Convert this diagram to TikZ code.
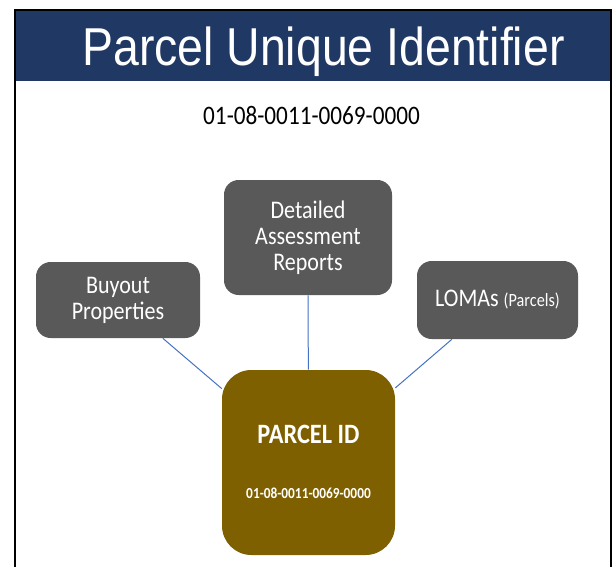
\documentclass[tikz,border=0pt]{standalone}
\usepackage{fontspec}
\setmainfont[FakeStretch=0.87]{Carlito}
\newfontfamily\titlefont[FakeStretch=0.87]{Liberation Sans}
\usetikzlibrary{positioning}
\definecolor{headblue}{HTML}{203864}
\definecolor{boxgray}{HTML}{595959}
\definecolor{parcelbrown}{HTML}{7F6000}
\definecolor{linkblue}{HTML}{4472C4}

\begin{document}
\begin{tikzpicture}[x=0.75pt,y=-0.75pt,
	link/.style={draw=linkblue,line width=0.75pt}]
	\tikzstyle{topic}=[rectangle,rounded corners=11pt,fill=boxgray,text=white,align=center,inner sep=0pt,font=\fontsize{19}{19.5}\selectfont]
	\tikzstyle{hub}=[rectangle,rounded corners=22pt,fill=parcelbrown,minimum width=129.75pt,minimum height=138.75pt]

	\useasboundingbox (0,0) rectangle (613,567);
	% title band and frame
	\fill[headblue] (15,10.5) rectangle (610.5,81);
	\draw[line width=1.5pt] (15,567) -- (15,10.5) -- (610.5,10.5) -- (610.5,567);

	\node[anchor=base,text=white,font=\titlefont\fontsize{40}{40}\selectfont] (title) at (323.5,65) {Parcel Unique Identifier};
	\node[anchor=base,font=\fontsize{20}{20}\selectfont] (number) at (311.5,124) {01-08-0011-0069-0000};

	\node[topic,minimum width=123pt,minimum height=57pt]        (buyout)   at (118,300)   {Buyout\\Properties};
	\node[topic,minimum width=126pt,minimum height=86.25pt]     (detailed) at (308,237.5) {Detailed\\Assessment\\Reports};
	\node[topic,minimum width=120.75pt,minimum height=58.5pt]   (lomas)    at (497.5,300) {LOMAs {\fontsize{14}{14}\selectfont(Parcels)}};
	\node[hub]                                                  (parcel)   at (308.5,462.5) {};

	\node[anchor=base,text=white,font=\fontsize{21}{21}\selectfont\bfseries] (pid)  at (308.5,443)   {PARCEL ID};
	\node[anchor=base,text=white,font=\fontsize{11.5}{11.5}\selectfont\bfseries] (pnum) at (308.5,498.5) {01-08-0011-0069-0000};

	\path (buyout)   edge[link] (parcel)
	      (detailed) edge[link] (parcel)
	      (lomas)    edge[link] (parcel);
\end{tikzpicture}
\end{document}
